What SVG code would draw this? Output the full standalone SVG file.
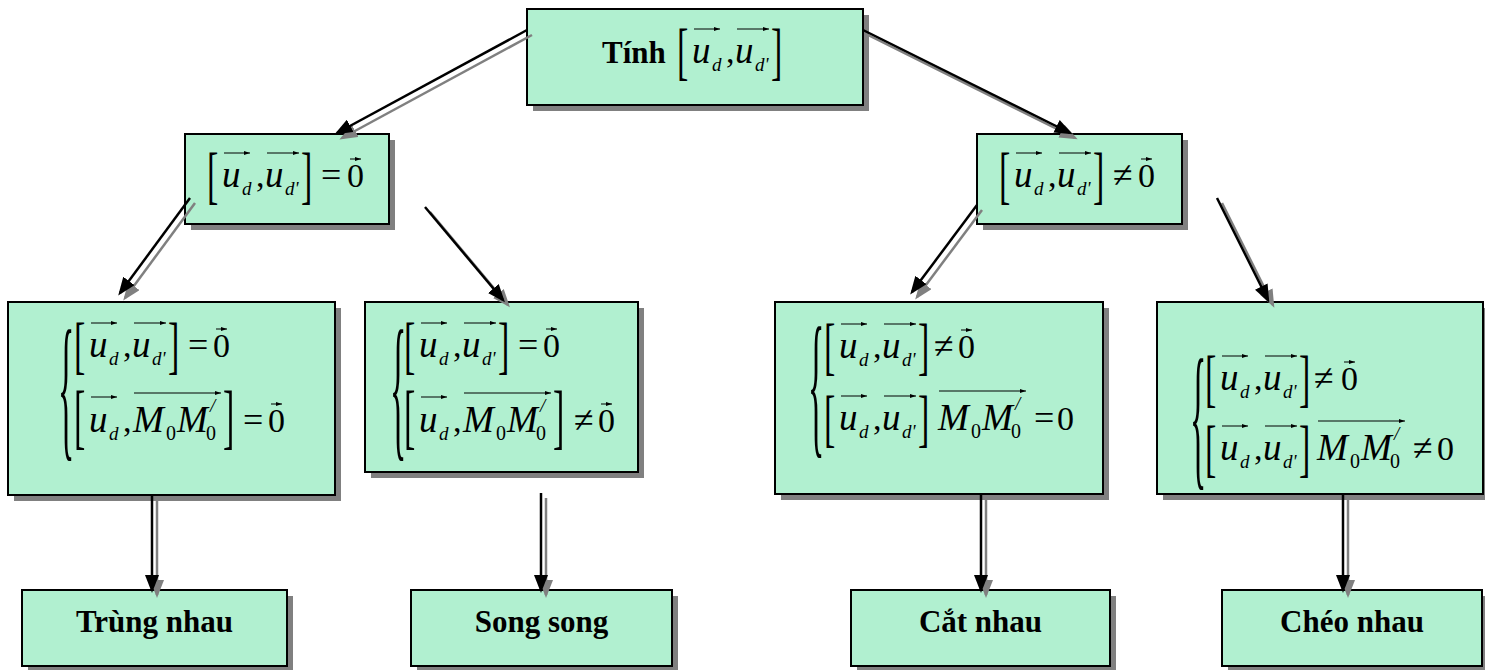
<svg xmlns="http://www.w3.org/2000/svg" xmlns:xlink="http://www.w3.org/1999/xlink" width="1485" height="670" viewBox="0 0 1485 670">
<style>
.box{fill:#b1f0d0;stroke:#000;stroke-width:2}
.sh{fill:#808080}
.m{font-family:"Liberation Serif",serif;font-size:34px;fill:#000}
.op{font-family:"Liberation Serif",serif;font-size:36px;fill:#000}
.v{font-family:"Liberation Serif",serif;font-style:italic;font-size:37px;fill:#000}
.s{font-family:"Liberation Serif",serif;font-style:italic;font-size:19px;fill:#000}
.n{font-family:"Liberation Serif",serif;font-size:20px;fill:#000}
.b{font-family:"Liberation Serif",serif;font-weight:bold;font-size:31px;fill:#000}
.lb{text-anchor:middle}
.va{stroke:#000;stroke-width:1;marker-end:url(#sa)}
.ck{stroke:#000;stroke-width:2.5;fill:none;marker-end:url(#ab)}
.cg{stroke:#808080;stroke-width:2.5;fill:none;marker-end:url(#ag)}
</style>
<defs>
<marker id="sa" viewBox="0 0 6 4" refX="6" refY="2" markerWidth="6" markerHeight="4" markerUnits="userSpaceOnUse" orient="auto"><path d="M0,0 L6,2 L0,4z" fill="#000"/></marker>
<marker id="ab" viewBox="0 0 18 14" refX="15" refY="7" markerWidth="18" markerHeight="14" markerUnits="userSpaceOnUse" orient="auto"><path d="M0,0 L18,7 L0,14z" fill="#000"/></marker>
<marker id="ag" viewBox="0 0 18 14" refX="15" refY="7" markerWidth="18" markerHeight="14" markerUnits="userSpaceOnUse" orient="auto"><path d="M0,0 L18,7 L0,14z" fill="#808080"/></marker>
<g id="e1">
<text class="m" transform="translate(-3,8.5) scale(1,1.88)">[</text>
<text class="v" x="12" y="0">u</text>
<text class="s" x="32" y="8">d</text>
<text class="m" x="46" y="0">,</text>
<text class="v" x="55" y="0">u</text>
<text class="s" x="75" y="8">d'</text>
<text class="m" transform="translate(91,8.5) scale(1,1.88)">]</text>
<line class="va" x1="14" y1="-34" x2="40" y2="-34"/>
<line class="va" x1="57" y1="-34" x2="89" y2="-34"/>
</g>
<g id="z0">
<text class="m" x="0" y="0">0</text>
<line class="va" x1="3" y1="-28" x2="14" y2="-28"/>
</g>
<g id="mm">
<text class="v" x="0" y="0">M</text>
<text class="n" x="33" y="8">0</text>
<text class="v" x="44" y="0">M</text>
<text class="n" x="73" y="8">0</text>
<text class="s" x="77" y="-20">/</text>
<line class="va" x1="1" y1="-39" x2="88" y2="-39"/>
</g>
<g id="e2">
<text class="m" transform="translate(-3,8.3) scale(1,2.09)">[</text>
<text class="v" x="12" y="0">u</text>
<text class="s" x="32" y="8">d</text>
<text class="m" x="46" y="0">,</text>
<use xlink:href="#mm" x="56" y="0"/>
<line class="va" x1="14" y1="-35" x2="40" y2="-35"/>
<text class="m" transform="translate(146,8.3) scale(1,2.09)">]</text>
</g>
</defs>

<g id="top">
<rect class="sh" x="533" y="15" width="336" height="96"/>
<rect class="box" x="527" y="9" width="336" height="96"/>
<text class="b" x="602" y="63">Tính</text>
<use xlink:href="#e1" x="680" y="63"/>
</g>

<g id="l2left">
<rect class="sh" x="191" y="140" width="204" height="90"/>
<rect class="box" x="185" y="134" width="204" height="90"/>
<use xlink:href="#e1" x="210" y="187"/>
<text class="op" x="321" y="187">=</text>
<use xlink:href="#z0" x="347" y="187"/>
</g>

<g id="l2right">
<rect class="sh" x="983" y="140" width="205" height="90"/>
<rect class="box" x="977" y="134" width="205" height="90"/>
<use xlink:href="#e1" x="1002" y="187"/>
<text class="op" x="1113" y="187">≠</text>
<use xlink:href="#z0" x="1138" y="187"/>
</g>

<g id="boxA">
<rect class="sh" x="14" y="308" width="327" height="193"/>
<rect class="box" x="8" y="302" width="327" height="193"/>
<text class="m" transform="translate(58,440) scale(1,4.65)">{</text>
<use xlink:href="#e1" x="77" y="357"/>
<text class="op" x="188" y="357">=</text>
<use xlink:href="#z0" x="213" y="357"/>
<use xlink:href="#e2" x="77" y="432"/>
<text class="op" x="243" y="432">=</text>
<use xlink:href="#z0" x="268" y="432"/>
</g>

<g id="boxB">
<rect class="sh" x="371" y="308" width="273" height="170"/>
<rect class="box" x="365" y="302" width="273" height="170"/>
<text class="m" transform="translate(390,440) scale(1,4.65)">{</text>
<use xlink:href="#e1" x="407" y="357"/>
<text class="op" x="518" y="357">=</text>
<use xlink:href="#z0" x="543" y="357"/>
<use xlink:href="#e2" x="407" y="432"/>
<text class="op" x="574" y="432">≠</text>
<use xlink:href="#z0" x="598" y="432"/>
</g>

<g id="boxC">
<rect class="sh" x="781" y="308" width="328" height="192"/>
<rect class="box" x="775" y="302" width="328" height="192"/>
<text class="m" transform="translate(808,437) scale(1,4.65)">{</text>
<use xlink:href="#e1" x="827" y="358"/>
<text class="op" x="934" y="358">≠</text>
<use xlink:href="#z0" x="958" y="358"/>
<use xlink:href="#e1" x="827" y="430"/>
<use xlink:href="#mm" x="938" y="430"/>
<text class="op" x="1034" y="430">=</text>
<text class="m" x="1057" y="430">0</text>
</g>

<g id="boxD">
<rect class="sh" x="1163" y="308" width="326" height="192"/>
<rect class="box" x="1157" y="302" width="326" height="192"/>
<text class="m" transform="translate(1190,469) scale(1,4.65)">{</text>
<use xlink:href="#e1" x="1208" y="390"/>
<text class="op" x="1314" y="390">≠</text>
<use xlink:href="#z0" x="1341" y="390"/>
<use xlink:href="#e1" x="1208" y="460"/>
<use xlink:href="#mm" x="1317" y="460"/>
<text class="op" x="1413" y="460">≠</text>
<text class="m" x="1437" y="460">0</text>
</g>

<g id="trung">
<rect class="sh" x="28" y="596" width="265" height="76"/>
<rect class="box" x="22" y="590" width="265" height="76"/>
<text class="b lb" x="154.5" y="632">Trùng nhau</text>
</g>
<g id="song">
<rect class="sh" x="417" y="596" width="261" height="76"/>
<rect class="box" x="411" y="590" width="261" height="76"/>
<text class="b lb" x="541.5" y="632">Song song</text>
</g>
<g id="cat">
<rect class="sh" x="857" y="596" width="259" height="76"/>
<rect class="box" x="851" y="590" width="259" height="76"/>
<text class="b lb" x="980.5" y="632">Cắt nhau</text>
</g>
<g id="cheo">
<rect class="sh" x="1228" y="596" width="260" height="76"/>
<rect class="box" x="1222" y="590" width="260" height="76"/>
<text class="b lb" x="1352" y="632">Chéo nhau</text>
</g>

<g id="connectors">
<g transform="translate(5,5)">
<line class="cg" x1="527" y1="30" x2="337" y2="133"/>
<line class="cg" x1="863" y1="30" x2="1070" y2="133"/>
<line class="cg" x1="190" y1="198" x2="120" y2="293"/>
<line class="cg" x1="425" y1="207" x2="503" y2="300"/>
<line class="cg" x1="977" y1="205" x2="912" y2="292"/>
<line class="cg" x1="1217" y1="198" x2="1268" y2="300"/>
<line class="cg" x1="152" y1="495" x2="152" y2="590"/>
<line class="cg" x1="541" y1="493" x2="541" y2="590"/>
<line class="cg" x1="981" y1="494" x2="981" y2="590"/>
<line class="cg" x1="1343" y1="494" x2="1343" y2="590"/>
</g>
<line class="ck" x1="527" y1="30" x2="337" y2="133"/>
<line class="ck" x1="863" y1="30" x2="1070" y2="133"/>
<line class="ck" x1="190" y1="198" x2="120" y2="293"/>
<line class="ck" x1="425" y1="207" x2="503" y2="300"/>
<line class="ck" x1="977" y1="205" x2="912" y2="292"/>
<line class="ck" x1="1217" y1="198" x2="1268" y2="300"/>
<line class="ck" x1="152" y1="495" x2="152" y2="590"/>
<line class="ck" x1="541" y1="493" x2="541" y2="590"/>
<line class="ck" x1="981" y1="494" x2="981" y2="590"/>
<line class="ck" x1="1343" y1="494" x2="1343" y2="590"/>
</g>
</svg>
